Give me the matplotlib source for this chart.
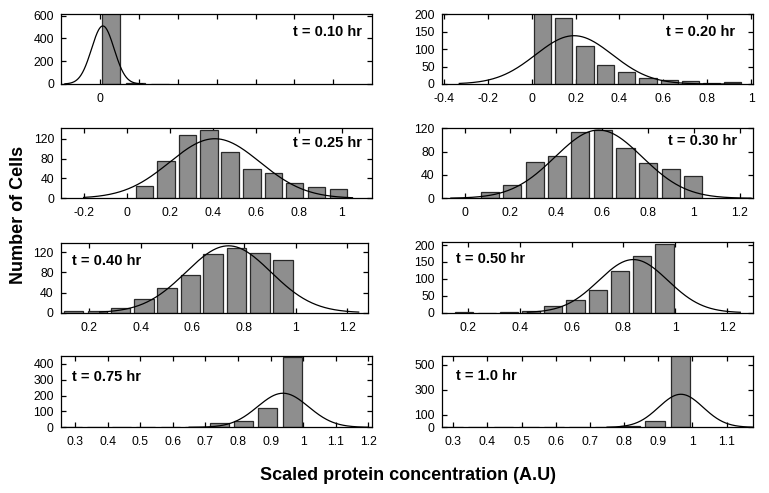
import numpy as np
import matplotlib
matplotlib.use("Agg")
from matplotlib import pyplot as plt

plt.rcParams['font.family'] = ['Liberation Sans', 'DejaVu Sans']

# time point labels
labels = ["t = 0.10 hr", "t = 0.20 hr", "t = 0.25 hr", "t = 0.30 hr",
          "t = 0.40 hr", "t = 0.50 hr", "t = 0.75 hr", "t = 1.0 hr"]

# histogram bin centres and counts
centers = [
    [0.058, 0.184, 0.308],
    [0.05, 0.146, 0.243, 0.338, 0.434, 0.53, 0.627, 0.723, 0.818, 0.916],
    [0.083, 0.183, 0.283, 0.383, 0.481, 0.582, 0.682, 0.78, 0.882, 0.984],
    [0.11, 0.207, 0.306, 0.404, 0.503, 0.603, 0.702, 0.8, 0.9, 0.998],
    [0.138, 0.231, 0.322, 0.412, 0.502, 0.592, 0.68, 0.771, 0.862, 0.952],
    [0.187, 0.273, 0.358, 0.444, 0.53, 0.615, 0.701, 0.786, 0.872, 0.958],
    [0.292, 0.367, 0.442, 0.517, 0.592, 0.667, 0.742, 0.817, 0.891, 0.966],
    [0.299, 0.373, 0.447, 0.521, 0.595, 0.669, 0.743, 0.817, 0.891, 0.965],
]
counts = [
    [700, 8, 3],
    [240, 190, 110, 53, 33, 17, 12, 9, 4, 6],
    [25, 76, 128, 137, 93, 60, 50, 30, 23, 19],
    [10, 22, 62, 73, 114, 117, 86, 61, 51, 39],
    [3, 3, 9, 27, 50, 74, 116, 129, 118, 104],
    [3, 0, 1, 4, 20, 37, 66, 124, 168, 202],
    [2, 0, 0, 0, 1, 3, 25, 40, 120, 445],
    [3, 0, 0, 0, 0, 1, 2, 13, 51, 700],
]

# normal fits: mean, sigma, peak height, drawn range
fit_mu = [0.015, 0.193, 0.41, 0.585, 0.74, 0.838, 0.938, 0.966]
fit_sigma = [0.058, 0.175, 0.21, 0.19, 0.165, 0.133, 0.078, 0.065]
fit_peak = [510, 138, 120, 117, 133, 157, 215, 265]
fit_range = [(-0.18, 0.22), (-0.33, 0.95), (-0.2, 1.05), (-0.06, 1.25),
             (0.24, 1.245), (0.43, 1.25), (0.65, 1.2), (0.75, 1.175)]

# axes ticks
xticks = [
    [0, 0.2, 0.4, 0.6, 0.8, 1.0, 1.2],
    [-0.4, -0.2, 0, 0.2, 0.4, 0.6, 0.8, 1.0],
    [-0.2, 0, 0.2, 0.4, 0.6, 0.8, 1.0],
    [0, 0.2, 0.4, 0.6, 0.8, 1.0, 1.2],
    [0.2, 0.4, 0.6, 0.8, 1.0, 1.2],
    [0.2, 0.4, 0.6, 0.8, 1.0, 1.2],
    [0.3, 0.4, 0.5, 0.6, 0.7, 0.8, 0.9, 1.0, 1.1, 1.2],
    [0.3, 0.4, 0.5, 0.6, 0.7, 0.8, 0.9, 1.0, 1.1],
]
yticks = [
    [0, 200, 400, 600],
    [0, 50, 100, 150, 200],
    [0, 40, 80, 120],
    [0, 40, 80, 120],
    [0, 40, 80, 120],
    [0, 50, 100, 150, 200],
    [0, 100, 200, 300, 400],
    [0, 100, 300, 500],
]

# layout (figure pixels) and limits
W, H = 769, 493
boxes = [  # left, top, right, bottom in pixels
    (61, 14, 372.3, 84), (441.7, 14, 753.3, 84),
    (61, 128.3, 372.3, 198.3), (441.7, 128.3, 753.3, 198.3),
    (60.7, 243.3, 367.7, 312.7), (441.7, 242.3, 753.3, 312.7),
    (60.7, 356, 372.3, 427.3), (441.7, 356, 753.3, 427.3),
]
xlims = [(-0.2, 1.4), (-0.41, 1.01), (-0.305, 1.142), (-0.1, 1.26),
         (0.089, 1.28), (0.1, 1.3), (0.256, 1.212), (0.266, 1.178)]
ylims = [(0, 615), (0, 200), (0, 141), (0, 120),
         (0, 138), (0, 208), (0, 450), (0, 572)]
bar_w = [0.095, 0.078, 0.081, 0.08, 0.075, 0.07, 0.058, 0.058]
label_pos = [(0.966, 0.736, 'right'), (0.941, 0.736, 'right'),
             (0.966, 0.783, 'right'), (0.947, 0.819, 'right'),
             (0.036, 0.745, 'left'), (0.046, 0.758, 'left'),
             (0.035, 0.705, 'left'), (0.046, 0.724, 'left')]

fig = plt.figure(figsize=(W / 100, H / 100), dpi=100)

for i in range(8):
    l, t, r, b = boxes[i]
    ax = fig.add_axes([l / W, 1 - b / H, (r - l) / W, (b - t) / H])
    ax.bar(centers[i], counts[i], width=bar_w[i], color='#8e8e8e',
           edgecolor='#2a2a2a', linewidth=0.9, zorder=2)
    xs = np.linspace(fit_range[i][0], fit_range[i][1], 300)
    ys = fit_peak[i] * np.exp(-(xs - fit_mu[i]) ** 2 / (2 * fit_sigma[i] ** 2))
    ax.plot(xs, ys, color='black', linewidth=0.9, zorder=3)
    ax.set_xlim(xlims[i])
    ax.set_ylim(ylims[i])
    ax.set_xticks(xticks[i])
    if i == 0:
        ax.set_xticklabels(['0'] + [''] * (len(xticks[i]) - 1))
    else:
        ax.set_xticklabels(['%g' % v for v in xticks[i]])
    ax.set_yticks(yticks[i])
    ax.tick_params(direction='in', top=True, right=True, length=3.5,
                   width=0.9, labelsize=8.8)
    ax.tick_params(axis='x', pad=6.5)
    ax.tick_params(axis='y', pad=5)
    for s in ax.spines.values():
        s.set_linewidth(0.9)
    px, py, ha = label_pos[i]
    ax.text(px, py, labels[i], transform=ax.transAxes, ha=ha, va='center',
            fontsize=10.5, fontweight='bold')

fig.text(18.5 / W, 1 - 215 / H, 'Number of Cells', rotation=90,
         ha='center', va='center', fontsize=13, fontweight='bold')
fig.text(408 / W, 1 - 475 / H, 'Scaled protein concentration (A.U)',
         ha='center', va='center', fontsize=13, fontweight='bold')

fig.savefig('out.png', dpi=100)
